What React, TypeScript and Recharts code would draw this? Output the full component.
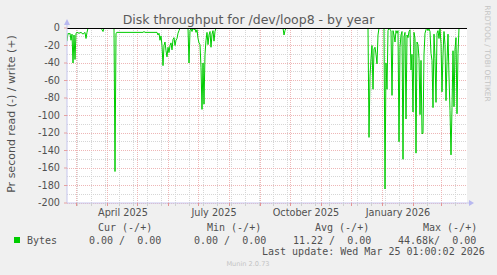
import React from 'react';
import { LineChart, Line, XAxis, YAxis, CartesianGrid, ReferenceLine } from 'recharts';

// Day offset from the left edge of the graph (1 day per pixel), and the read rate (negative side)
const dayOffsets = [
  0, 1, 2, 3, 4, 5, 6, 7, 8, 9, 10, 12, 14, 16, 18, 19, 20, 21, 34, 35, 36, 37, 47, 48, 49, 50,
  76, 77, 78, 90, 91, 92, 93, 94, 95, 96, 97, 98, 99, 100, 101, 102, 103, 104, 105, 106, 107, 108,
  109, 110, 111, 112, 113, 121, 122, 123, 124, 125, 126, 127, 128, 129, 130, 131, 132, 133, 134,
  135, 136, 137, 138, 139, 140, 141, 142, 143, 144, 145, 146, 147, 148, 149, 216, 217, 218, 219,
  301, 302, 303, 304, 305, 306, 307, 308, 309, 310, 311, 312, 317, 318, 319, 320, 321, 322, 323,
  324, 325, 326, 327, 328, 329, 330, 331, 332, 333, 334, 335, 336, 337, 338, 339, 340, 341, 342,
  343, 344, 345, 346, 347, 348, 349, 350, 351, 352, 353, 354, 355, 356, 357, 358, 359, 360, 361,
  362, 363, 364, 365, 366, 367, 368, 369, 370, 371, 372, 373, 374, 375, 376, 377, 378, 379, 380,
  381, 382, 383, 384, 385, 386, 387, 388, 389, 390, 391, 392, 399,
];
const readValues = [
  -15, -6, -7, -6, -14, -7, -40, -8, -36, -6, -5, -6, -5, -7, -5, -12, -5, 0, 0, -2, -4, 0, 0, -164, -6, -5,
  -5, -4, -5, -5, -8, -6, -14, -9, -20, -43, -20, -16, -26, -33, -22, -28, -20, -17, -25, -13, -11, -20,
  -14, -12, -6, -3, 0, 0, -40, -3, -1, -4, 0, -2, -1, -5, -2, -12, -17, -19, -45,
  -93, -40, -87, -30, -14, -5, -19, -8, -4, -22, -7, -3, -15, -4, 0, 0, -8, -3, 0,
  0, -125, -55, -35, -20, -70, -24, -22, -30, -41, -8, 0, 0, -184, -40, -70, -3, 0, -2,
  -3, -77, -3, -8, -16, -3, -6, -3, -130, -22, -8, -4, -150, -10, -5, -104, -8, -11, -4,
  -2, -48, -30, -96, -5, -12, -143, -16, -19, -35, -99, -37, -121, -120, -30, -6, -2, 0, -3,
  -1, -4, -29, -37, -91, -7, -35, -85, -6, -3, -12, 0, -18, -73, -30, -4, -19, -83, -38,
  -7, -56, -94, -145, -91, -26, -90, -24, -11, -98, -29, 0, 0,
];

// Time axis: month starts (major grid), minor grid days, label positions
const monthStarts = [9.5, 40.5, 70.5, 101.5, 131.5, 162.5, 193.5, 223.5, 254.5, 284.5, 315.5, 346.5, 374.5];
const minorDays = [
  10.3, 24.3, 38.3, 52.3, 66.3, 80.3, 94.3, 108.3, 122.3, 136.3, 150.3, 164.3, 178.3, 192.3,
  206.3, 220.3, 234.3, 248.3, 262.3, 276.3, 290.3, 304.3, 318.3, 332.3, 346.3, 360.3, 374.3, 388.3,
];
const labelDays = [56, 147, 239, 331];
const labelTexts = ['April 2025', 'July 2025', 'October 2025', 'January 2026'];

const majorYTicks = [0, -20, -40, -60, -80, -100, -120, -140, -160, -180, -200];
const minorYTicks = [-10, -30, -50, -70, -90, -110, -130, -150, -170, -190];

const legendHeaders = ['Cur (-/+)', 'Min (-/+)', 'Avg (-/+)', 'Max (-/+)'];
const legendValues = ['0.00 /  0.00', '0.00 /  0.00', '11.22 /  0.00', '44.68k/  0.00'];
const seriesName = 'Bytes';
const lastUpdate = 'Last update: Wed Mar 25 01:00:02 2026';

const data = dayOffsets.map((d, i) => ({ day: d, read: readValues[i] }));
const allXTicks = [...monthStarts, ...minorDays, ...labelDays].sort((a, b) => a - b);
const labelMap = new Map(labelDays.map((d, i) => [d, labelTexts[i]]));
const monthSet = new Set(monthStarts);

const SANS = "'DejaVu Sans', sans-serif";
const MONO = "'DejaVu Sans Mono', monospace";
const RED = '#eeb6b6';
const GRAY = '#d6d6d6';
const AXIS = '#c6c6ee';
const TXT = '#505050';

const nb = (s: string) => s.replace(/ /g, '\u00a0');

const dotted = (color: string) => (p: any) => (
  <line
    x1={p.x1}
    y1={p.y1}
    x2={p.x2}
    y2={p.y2}
    stroke={color}
    strokeWidth={1}
    strokeDasharray="1 1"
    shapeRendering="crispEdges"
    fill="none"
  />
);

function XTick(props: any) {
  const { x, y, payload } = props;
  const v = payload.value;
  const axisY = y - 6;
  if (labelMap.has(v)) {
    return (
      <text x={x} y={axisY + 13.3} textAnchor="middle" fontFamily={SANS} fontSize={9.7} fill={TXT}>
        {labelMap.get(v)}
      </text>
    );
  }
  const major = monthSet.has(v);
  return <line x1={x} x2={x} y1={axisY} y2={axisY + 3} stroke={major ? '#e49494' : '#cfcfcf'} shapeRendering="crispEdges" />;
}

const headerX = [98, 207, 315, 423];
const valueX = [89, 194, 293, 398];

export default function App() {
  return (
    <div style={{ position: 'absolute', left: 0, top: 0, width: 497, height: 275, background: '#f0f0f0', overflow: 'hidden' }}>
      <LineChart width={497} height={275} data={data} margin={{ top: 28, right: 30, bottom: 52, left: 0 }}>
        <CartesianGrid fill="#ffffff" horizontal={false} vertical={false} />
        {minorYTicks.map((v) => (
          <ReferenceLine key={'my' + v} y={v} shape={dotted(GRAY)} />
        ))}
        {minorDays.map((v) => (
          <ReferenceLine key={'mx' + v} x={v} shape={dotted(GRAY)} />
        ))}
        {majorYTicks.filter((v) => v !== 0).map((v) => (
          <ReferenceLine key={'My' + v} y={v} shape={dotted(RED)} />
        ))}
        {monthStarts.map((v) => (
          <ReferenceLine key={'Mx' + v} x={v} shape={dotted(RED)} />
        ))}
        <XAxis
          type="number"
          dataKey="day"
          domain={[0, 400]}
          ticks={allXTicks}
          interval={0}
          height={20}
          tickSize={4}
          tickMargin={2}
          tickLine={false}
          axisLine={{ stroke: AXIS }}
          tick={<XTick />}
          allowDataOverflow
        />
        <YAxis
          type="number"
          domain={[-200, 0]}
          ticks={majorYTicks}
          interval={0}
          width={67}
          tickSize={3}
          tickMargin={4}
          tickLine={{ stroke: '#e6a0a0' }}
          axisLine={{ stroke: AXIS }}
          tick={{ fill: TXT, fontSize: 9.7, fontFamily: SANS }}
          allowDataOverflow
        />
        <Line
          type="linear"
          dataKey="read"
          stroke="#00cc00"
          strokeWidth={1}
          dot={false}
          activeDot={false}
          isAnimationActive={false}
        />
        <ReferenceLine y={0} stroke="#000000" shapeRendering="crispEdges" />
      </LineChart>
      <svg width={497} height={275} style={{ position: 'absolute', left: 0, top: 0, pointerEvents: 'none' }}>
        <line x1={67} y1={28} x2={67} y2={23} stroke={AXIS} />
        <polygon points="64,25 70,25 67,19" fill="#b8b8f0" />
        <line x1={467} y1={203} x2={470} y2={203} stroke={AXIS} />
        <polygon points="469,200 469,206 474,203" fill="#b8b8f0" />
        <text x={248.5} y={24} textAnchor="middle" fontFamily={SANS} fontSize={12.5} fill="#5a5a5a">
          Disk throughput for /dev/loop8 - by year
        </text>
        <text transform="translate(15,114) rotate(-90)" textAnchor="middle" fontFamily={SANS} fontSize={11} fill={TXT}>
          Pr second read (-) / write (+)
        </text>
        <text transform="translate(485,53.5) rotate(90)" textAnchor="middle" fontFamily={SANS} fontSize={7.5} fill="#c4c4c4">
          RRDTOOL / TOBI OETIKER
        </text>
        <g fontFamily={MONO} fontSize={10} fill={TXT}>
          {legendHeaders.map((h, i) => (
            <text key={'h' + i} x={headerX[i]} y={231}>{nb(h)}</text>
          ))}
          <rect x={14} y={237} width={6} height={6} fill="#00cc00" />
          <text x={27} y={243.6}>{seriesName}</text>
          {legendValues.map((v, i) => (
            <text key={'v' + i} x={valueX[i]} y={243.6}>{nb(v)}</text>
          ))}
          <text x={262} y={255.3}>{nb(lastUpdate)}</text>
        </g>
        <text x={248} y={266.4} textAnchor="middle" fontFamily={SANS} fontSize={6.6} fill="#c4c4c4">
          Munin 2.0.73
        </text>
      </svg>
    </div>
  );
}
